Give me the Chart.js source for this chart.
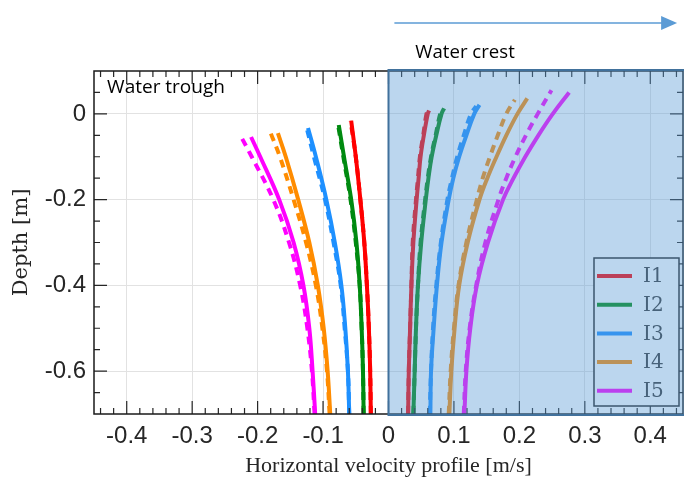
<!DOCTYPE html>
<html>
<head>
<meta charset="utf-8">
<script src="https://cdn.jsdelivr.net/npm/chart.js@4.4.0/dist/chart.umd.min.js"></script>
<style>
  html, body { margin: 0; padding: 0; background: #fff; }
</style>
</head>
<body>
<canvas id="chart" width="684" height="482"></canvas>
<script>
// Depth levels (m), bottom to top. The last value of each profile array
// sits at that profile's own surface depth (troughSurface / crestSurface...).
var troughDepths = [-0.70, -0.60, -0.50, -0.40, -0.30, -0.20, -0.10];
var crestDepths = [-0.70, -0.60, -0.50, -0.40, -0.30, -0.20, -0.15, -0.10, -0.05, 0.00];
var troughSurface = [-0.016, -0.026, -0.033, -0.045, -0.054];
var crestSurface = [0.008, 0.013, 0.021, 0.036, 0.050];
var crestSurfaceDashed = [0.006, 0.012, 0.018, 0.033, 0.055];

var seriesNames = ['I1', 'I2', 'I3', 'I4', 'I5'];
var seriesColors = ['#ff0000', '#008a10', '#1e90ff', '#ff8c00', '#ff00ff'];

// horizontal velocity (m/s) under the water trough
var troughSolid = [
  [-0.027, -0.028, -0.030, -0.033, -0.037, -0.043, -0.050, -0.057],
  [-0.038, -0.039, -0.041, -0.044, -0.049, -0.057, -0.068, -0.076],
  [-0.060, -0.062, -0.066, -0.072, -0.082, -0.095, -0.111, -0.123],
  [-0.089, -0.093, -0.099, -0.108, -0.121, -0.138, -0.157, -0.169],
  [-0.112, -0.116, -0.121, -0.130, -0.145, -0.167, -0.196, -0.210]
];
var troughDashed = [
  [-0.027, -0.028, -0.030, -0.033, -0.037, -0.043, -0.050, -0.058],
  [-0.038, -0.039, -0.041, -0.044, -0.050, -0.058, -0.069, -0.077],
  [-0.060, -0.062, -0.067, -0.073, -0.084, -0.097, -0.114, -0.125],
  [-0.090, -0.094, -0.101, -0.111, -0.126, -0.145, -0.166, -0.180],
  [-0.113, -0.117, -0.124, -0.135, -0.152, -0.176, -0.209, -0.225]
];
// horizontal velocity (m/s) under the water crest
var crestSolid = [
  [0.030, 0.031, 0.033, 0.035, 0.038, 0.043, 0.046, 0.049, 0.054, 0.060, 0.062],
  [0.038, 0.040, 0.042, 0.045, 0.050, 0.057, 0.061, 0.066, 0.073, 0.081, 0.085],
  [0.064, 0.065, 0.069, 0.074, 0.081, 0.092, 0.099, 0.108, 0.119, 0.131, 0.139],
  [0.093, 0.096, 0.101, 0.108, 0.121, 0.139, 0.151, 0.165, 0.180, 0.197, 0.212],
  [0.116, 0.119, 0.125, 0.135, 0.152, 0.175, 0.191, 0.209, 0.229, 0.251, 0.276]
];
var crestDashed = [
  [0.030, 0.031, 0.033, 0.035, 0.037, 0.042, 0.045, 0.048, 0.053, 0.058, 0.060],
  [0.038, 0.040, 0.042, 0.045, 0.049, 0.056, 0.060, 0.065, 0.072, 0.079, 0.083],
  [0.063, 0.065, 0.068, 0.073, 0.080, 0.090, 0.097, 0.105, 0.115, 0.126, 0.134],
  [0.092, 0.095, 0.100, 0.107, 0.119, 0.135, 0.144, 0.155, 0.167, 0.180, 0.193],
  [0.115, 0.118, 0.124, 0.134, 0.148, 0.168, 0.180, 0.194, 0.210, 0.228, 0.249]
];

var xTicks = [-0.4, -0.3, -0.2, -0.1, 0, 0.1, 0.2, 0.3, 0.4];
var yTicks = [-0.6, -0.4, -0.2, 0];

function profile(vals, depths, surface) {
  return vals.map(function(v, i) {
    return { x: v, y: i < depths.length ? depths[i] : surface };
  });
}

function makeSet(vals, depths, surface, idx, dashed) {
  return {
    label: seriesNames[idx] + (dashed ? ' dashed' : ''),
    data: profile(vals, depths, surface),
    showLine: true,
    borderColor: seriesColors[idx],
    borderWidth: 4,
    borderDash: dashed ? [8, 6] : [],
    pointRadius: 0,
    tension: 0.4,
    fill: false
  };
}

var datasets = [];
for (var i = 0; i < 5; i++) {
  datasets.push(makeSet(troughDashed[i], troughDepths, troughSurface[i], i, true));
  datasets.push(makeSet(crestDashed[i], crestDepths, crestSurfaceDashed[i], i, true));
}
for (var i = 0; i < 5; i++) {
  datasets.push(makeSet(troughSolid[i], troughDepths, troughSurface[i], i, false));
  datasets.push(makeSet(crestSolid[i], crestDepths, crestSurface[i], i, false));
}

function fmt(v) {
  if (Math.abs(v) < 1e-9) return '0';
  return String(Math.round(v * 10) / 10);
}

// box, inward ticks, legend, crest overlay and annotations
var framePlugin = {
  id: 'framePlugin',
  afterDraw: function(chart) {
    var ctx = chart.ctx, a = chart.chartArea;
    var xs = chart.scales.x, ys = chart.scales.y;
    ctx.save();

    // inward ticks on all four sides
    ctx.strokeStyle = '#262626';
    ctx.lineWidth = 1.2;
    ctx.beginPath();
    for (var i = -22; i <= 22; i++) {
      var px = xs.getPixelForValue(i * 0.02);
      if (px <= a.left + 1 || px >= a.right - 1) continue;
      var len = (i % 5 === 0) ? 13 : 6;
      ctx.moveTo(px, a.bottom); ctx.lineTo(px, a.bottom - len);
      ctx.moveTo(px, a.top); ctx.lineTo(px, a.top + len);
    }
    for (var j = -13; j <= 1; j++) {
      var py = ys.getPixelForValue(j * 0.05);
      var ylen = (j % 4 === 0) ? 13 : 6;
      ctx.moveTo(a.left, py); ctx.lineTo(a.left + ylen, py);
      ctx.moveTo(a.right, py); ctx.lineTo(a.right - ylen, py);
    }
    ctx.stroke();

    // axes box
    ctx.strokeStyle = '#1a1a1a';
    ctx.lineWidth = 1.5;
    ctx.strokeRect(a.left, a.top, a.right - a.left, a.bottom - a.top);

    // legend
    var lw = 85, lh = 148;
    var lx = a.right - 89, ly = a.bottom - 156;
    ctx.fillStyle = '#ffffff';
    ctx.fillRect(lx, ly, lw, lh);
    ctx.strokeStyle = '#262626';
    ctx.lineWidth = 1.5;
    ctx.strokeRect(lx, ly, lw, lh);
    ctx.font = '20px "DejaVu Serif"';
    ctx.textBaseline = 'middle';
    ctx.textAlign = 'left';
    for (var k = 0; k < seriesNames.length; k++) {
      var ry = ly + 18 + k * 28.7;
      ctx.strokeStyle = seriesColors[k];
      ctx.lineWidth = 4;
      ctx.beginPath();
      ctx.moveTo(lx + 3, ry); ctx.lineTo(lx + 38, ry);
      ctx.stroke();
      ctx.fillStyle = '#3a3a3a';
      ctx.fillText(seriesNames[k], lx + 49, ry + 1);
    }

    // translucent crest overlay
    var x0 = xs.getPixelForValue(0);
    ctx.fillStyle = 'rgba(91,155,213,0.41)';
    ctx.fillRect(x0, a.top - 1, chart.width - x0 + 2, a.bottom - a.top + 2);
    ctx.strokeStyle = '#41719c';
    ctx.lineWidth = 2;
    ctx.strokeRect(x0, a.top - 1, chart.width - x0 + 2, a.bottom - a.top + 2);

    // propagation arrow
    var ax0 = xs.getPixelForValue(0.009), ax1 = xs.getPixelForValue(0.441);
    var ay = 23;
    ctx.strokeStyle = '#5b9bd5';
    ctx.fillStyle = '#5b9bd5';
    ctx.lineWidth = 1.5;
    ctx.beginPath();
    ctx.moveTo(ax0, ay); ctx.lineTo(ax1 - 14, ay);
    ctx.stroke();
    ctx.beginPath();
    ctx.moveTo(ax1, ay); ctx.lineTo(ax1 - 16, ay - 7); ctx.lineTo(ax1 - 16, ay + 7);
    ctx.closePath(); ctx.fill();

    // labels
    ctx.fillStyle = '#000000';
    ctx.textBaseline = 'middle';
    ctx.font = '18.6px "Open Sans"';
    ctx.fillText('Water crest', xs.getPixelForValue(0.041), 53);
    ctx.font = '19px "Open Sans"';
    ctx.fillText('Water trough', xs.getPixelForValue(-0.43), ys.getPixelForValue(0.062));

    ctx.restore();
  }
};

new Chart(document.getElementById('chart'), {
  type: 'scatter',
  data: { datasets: datasets },
  plugins: [framePlugin],
  options: {
    responsive: false,
    animation: false,
    layout: { padding: { top: 71, right: 1, left: 0, bottom: 0 } },
    plugins: { legend: { display: false }, tooltip: { enabled: false } },
    scales: {
      x: {
        type: 'linear', min: -0.45, max: 0.45,
        afterBuildTicks: function(s) { s.ticks = xTicks.map(function(v) { return { value: v }; }); },
        afterFit: function(s) { s.height = 68; },
        ticks: {
          font: { family: 'Liberation Sans', size: 24 }, color: '#262626', padding: 8,
          maxRotation: 0, autoSkip: false,
          callback: function(v) { return fmt(v); }
        },
        grid: { color: '#e2e2e2', lineWidth: 1, drawTicks: false },
        border: { display: false },
        title: {
          display: true, text: 'Horizontal velocity profile [m/s]',
          font: { family: 'Liberation Serif', size: 22 }, color: '#262626',
          padding: { top: 0, bottom: 3 }
        }
      },
      y: {
        type: 'linear', min: -0.7, max: 0.1,
        afterBuildTicks: function(s) { s.ticks = yTicks.map(function(v) { return { value: v }; }); },
        afterFit: function(s) { s.width = 94; },
        ticks: {
          font: { family: 'Liberation Sans', size: 24 }, color: '#262626', padding: 8,
          autoSkip: false,
          callback: function(v) { return fmt(v); }
        },
        grid: { color: '#e2e2e2', lineWidth: 1, drawTicks: false },
        border: { display: false },
        title: {
          display: true, text: 'Depth [m]',
          font: { family: 'DejaVu Serif', size: 21 }, color: '#262626',
          padding: { top: 9, bottom: 0 }
        }
      }
    }
  }
});
</script>
</body>
</html>
